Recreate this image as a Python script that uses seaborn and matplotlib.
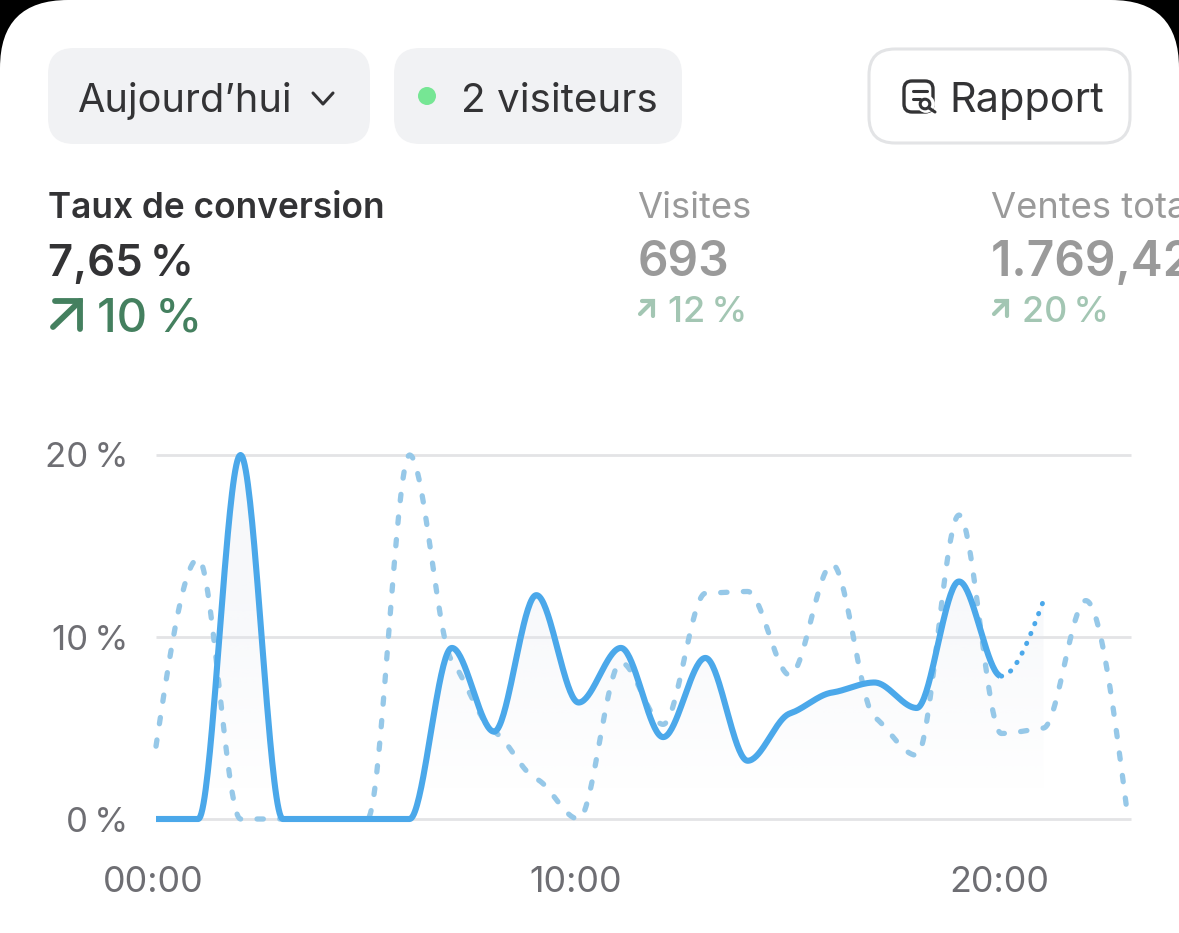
import numpy as np
import pandas as pd
import matplotlib
import matplotlib.pyplot as plt
import seaborn as sns
from matplotlib.patches import FancyBboxPatch, Circle
from matplotlib.transforms import ScaledTranslation

matplotlib.use('Agg')
sns.set_style('white')
plt.rcParams['font.family'] = ['Inter', 'DejaVu Sans']

W, H = 1179, 933

hours = list(range(24))
# conversion today, hourly (the last hour is still running, drawn dotted)
today = [0, 0, 20, 0, 0, 0, 0, 9.4, 4.8, 12.3, 6.4, 9.4, 4.5, 8.85, 3.2, 5.8, 6.95, 7.5, 6.1, 13.05, 7.85, 12]
previous = [4, 14.3, 0, 0, 0, 0, 20, 8.7, 4.8, 2.2, 0, 8.6, 5.2, 12.4, 12.5, 7.9, 14, 5.6, 3.5, 16.7, 4.7, 5, 12, 0]
y_ticks = [0, 10, 20]
y_labels = ['0\u2009%', '10\u2009%', '20\u2009%']
x_ticks = [0, 10, 20]
x_labels = ['00:00', '10:00', '20:00']

LINE = '#4BA8EA'
LINE_PREV = '#96C8E8'
GRID = '#E3E4E6'
DARK = '#333335'
GREY = '#9A9A9A'
GREEN = '#44805F'
PALE_GREEN = '#A3C6B3'


def smooth(y, n=40):
    # monotone cubic between the hourly readings, tangents kept soft
    y = np.asarray(y, dtype=float)
    s = np.diff(y)
    m = np.zeros(len(y))
    for i in range(1, len(y) - 1):
        if s[i - 1] * s[i] > 0:
            m[i] = np.sign(s[i]) * min(abs(s[i - 1]), abs(s[i]), abs(s[i - 1] + s[i]) / 4) * 0.8
    m[0] = (3 * s[0] - m[1]) / 2
    m[-1] = (3 * s[-1] - m[-2]) / 2
    xs, ys = [], []
    for i in range(len(y) - 1):
        t = np.linspace(0, 1, n, endpoint=False)
        ys.append((2*t**3 - 3*t**2 + 1) * y[i] + (t**3 - 2*t**2 + t) * m[i]
                  + (-2*t**3 + 3*t**2) * y[i + 1] + (t**3 - t**2) * m[i + 1])
        xs.append(i + t)
    return np.append(np.concatenate(xs), len(y) - 1), np.append(np.concatenate(ys), y[-1])


fig = plt.figure(figsize=(W / 100, H / 100), dpi=100, facecolor='black')

# screen layer in pixel coordinates
ui = fig.add_axes([0, 0, 1, 1])
ui.set_xlim(0, W)
ui.set_ylim(H, 0)
ui.axis('off')


def box(x0, y0, x1, y1, r, **kw):
    ui.add_patch(FancyBboxPatch((x0, y0), x1 - x0, y1 - y0,
                                boxstyle=f'round,pad=0,rounding_size={r}', **kw))


def arrow(x0, y0, x1, y1, color, lw):
    ui.plot([x0, x1], [y0, y1], color=color, lw=lw, solid_capstyle='round')
    ui.plot([x0 + 2, x1, x1], [y1, y1, y0 + 2], color=color, lw=lw,
            solid_capstyle='round', solid_joinstyle='miter')


box(0, 0, W, H + 200, 68, fc='white', ec='none')
box(48, 48, 370, 144, 26, fc='#F1F2F4', ec='none')
box(394, 48, 682, 144, 26, fc='#F1F2F4', ec='none')
box(869, 49, 1130, 143, 26, fc='white', ec=GRID, lw=2.2)

ui.text(78, 112, 'Aujourd’hui', fontsize=28.6, color=DARK, va='baseline')
ui.plot([313, 323, 333], [93, 104, 93], color=DARK, lw=2.2, solid_capstyle='round')
ui.add_patch(Circle((427, 96), 9, fc='#76E694', ec='none'))
ui.text(461, 112, '2 visiteurs', fontsize=29.1, color=DARK, va='baseline')
ui.text(949, 112, 'Rapport', fontsize=29.8, color=DARK, va='baseline')

# report icon
box(904, 81, 933, 112, 8, fc='none', ec=DARK, lw=2.4)
ui.plot([913, 927], [91, 91], color=DARK, lw=2.2, solid_capstyle='round')
ui.plot([913, 920], [99, 99], color=DARK, lw=2.2, solid_capstyle='round')
ui.add_patch(Circle((926, 104), 7.5, fc='white', ec='white', lw=2))
ui.add_patch(Circle((925, 104), 4.8, fc='none', ec=DARK, lw=2.2))
ui.plot([929, 935], [108, 112], color=DARK, lw=2.2, solid_capstyle='round')

ui.text(48, 218, 'Taux de conversion', fontsize=25.4, fontweight='semibold', color=DARK, va='baseline')
ui.text(48, 276, '7,65\u2009%', fontsize=31.5, fontweight='semibold', color=DARK, va='baseline')
arrow(53, 327, 80, 301, GREEN, 4.2)
ui.text(97, 331, '10\u2009%', fontsize=34, fontweight='medium', color=GREEN, va='baseline')

ui.text(637, 218, 'Visites', fontsize=26.2, color=GREY, va='baseline')
ui.text(638, 276, '693', fontsize=34.5, fontweight='semibold', color=GREY, va='baseline')
arrow(640, 314, 653, 301, PALE_GREEN, 3)
ui.text(668, 322, '12\u2009%', fontsize=26, fontweight='medium', color=PALE_GREEN, va='baseline')

ui.text(991, 218, 'Ventes totales', fontsize=26.2, color=GREY, va='baseline')
ui.text(991, 276, '1.769,42\u2009€', fontsize=34.5, fontweight='semibold', color=GREY, va='baseline')
arrow(994, 314, 1007, 301, PALE_GREEN, 3)
ui.text(1022, 322, '20\u2009%', fontsize=25.8, fontweight='medium', color=PALE_GREEN, va='baseline')

# chart layer
ax = fig.add_axes([156 / W, 1 - 819 / H, (1131 - 156) / W, (819 - 455) / H])
ax.patch.set_alpha(0)

prev_x, prev_y = smooth(previous)
today_x, today_y = smooth(today)
is_live = today_x >= 20
prev_df = pd.DataFrame({'hour': prev_x, 'rate': prev_y})
done_df = pd.DataFrame({'hour': today_x[~is_live], 'rate': today_y[~is_live]})
live_df = pd.DataFrame({'hour': today_x[is_live], 'rate': today_y[is_live]})

# soft gradient under today's curve
area = ax.fill_between(today_x, 0, today_y, color='none', lw=0)
shade = np.zeros((200, 2, 4))
shade[..., :3] = matplotlib.colors.to_rgb('#E4E8F0')
shade[..., 3] = np.linspace(0.24, 0, 200)[:, None] ** 0.85
img = ax.imshow(shade, extent=[0, 21, 1.6, 13], origin='upper', aspect='auto', zorder=1.5,
                interpolation='bilinear')
img.set_clip_path(area.get_paths()[0], ax.transData)
shade2 = np.zeros((2, 2, 4))
shade2[..., :3] = matplotlib.colors.to_rgb('#E4E8F0')
shade2[..., 3] = 0.24 ** 0.85
img2 = ax.imshow(shade2, extent=[0, 21, 13, 20], origin='upper', aspect='auto', zorder=1.5)
img2.set_clip_path(area.get_paths()[0], ax.transData)

sns.lineplot(data=prev_df, x='hour', y='rate', ax=ax, color=LINE_PREV, linewidth=3.8, zorder=2,
             linestyle=(0, (1.2, 3.1)), dash_capstyle='round', estimator=None, sort=False, clip_on=False)
sns.lineplot(data=done_df, x='hour', y='rate', ax=ax, color=LINE, linewidth=4.4, zorder=3,
             estimator=None, sort=False, clip_on=False, solid_capstyle='butt')
sns.lineplot(data=live_df, x='hour', y='rate', ax=ax, color=LINE, linewidth=3.5, zorder=3,
             linestyle=(0, (0.1, 2.1)), dash_capstyle='round', estimator=None, sort=False, clip_on=False)

ax.set_xlim(0, 23.07)
ax.set_ylim(0, 20)
ax.set_xlabel('')
ax.set_ylabel('')
ax.set_xticks(x_ticks, x_labels)
ax.set_yticks(y_ticks, y_labels)
ax.tick_params(axis='x', length=0, pad=34, labelsize=25.8, labelcolor='#6E6E73')
ax.tick_params(axis='y', length=0, pad=20, labelsize=25, labelcolor='#6E6E73')
for label in ax.get_xticklabels():
    label.set_transform(label.get_transform() + ScaledTranslation(-2.5 / 100, 0, fig.dpi_scale_trans))
ax.yaxis.grid(True, color=GRID, lw=2, zorder=1)
ax.xaxis.grid(False)
ax.set_axisbelow(True)
for line in ax.get_ygridlines():
    line.set_clip_on(False)
    line.set_solid_capstyle('butt')
sns.despine(ax=ax, left=True, bottom=True)

fig.savefig('out.png', dpi=100, facecolor='black')
